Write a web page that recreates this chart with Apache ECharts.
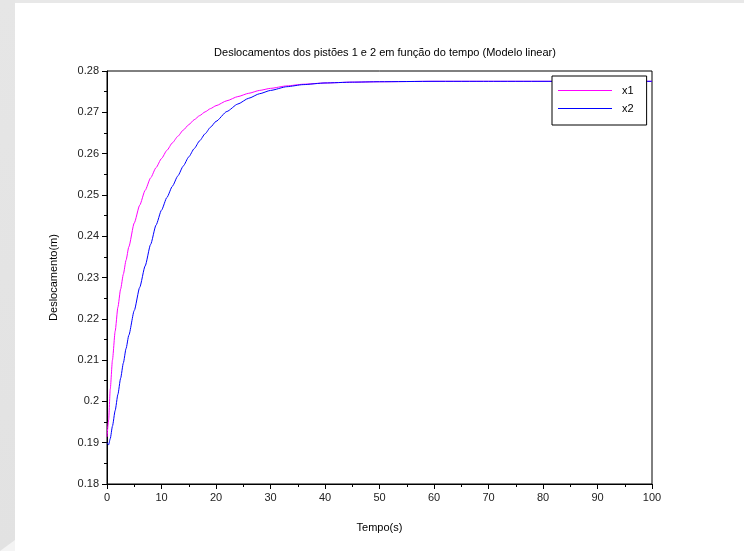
<!DOCTYPE html>
<html>
<head>
<meta charset="utf-8">
<script src="https://cdn.jsdelivr.net/npm/echarts@6/dist/echarts.min.js"></script>
<style>
  html, body { margin: 0; padding: 0; background: #ffffff; }
  #chart { width: 744px; height: 551px; }
</style>
</head>
<body>
<div id="chart"></div>
<script>
// Time samples (s)
const tempo = [0, 0.3, 0.6, 1, 1.5, 2, 2.5, 3, 3.5, 4, 5, 6, 7, 8, 9, 10, 11, 12, 13, 14, 15, 16, 17, 18, 19, 20, 22, 24, 26, 28, 30, 33, 36, 40, 45, 50, 60, 70, 80, 90, 100];
// Displacement of piston 1 (m)
const x1 = [0.1914, 0.1955, 0.2030, 0.2100, 0.2170, 0.2228, 0.2272, 0.2308, 0.2342, 0.2374, 0.2432, 0.2475, 0.2511, 0.2541, 0.2566, 0.2588, 0.2608, 0.2626, 0.2642, 0.2657, 0.2670, 0.2682, 0.2692, 0.2701, 0.2709, 0.2716, 0.2728, 0.2738, 0.2746, 0.2753, 0.2758, 0.2764, 0.2768, 0.2771, 0.2773, 0.2774, 0.2775, 0.2775, 0.2775, 0.2775, 0.2775];
// Displacement of piston 2 (m)
const x2 = [0.1900, 0.1895, 0.1910, 0.1940, 0.1978, 0.2017, 0.2056, 0.2093, 0.2128, 0.2160, 0.2220, 0.2276, 0.2328, 0.2380, 0.2427, 0.2463, 0.2494, 0.2521, 0.2546, 0.2570, 0.2592, 0.2612, 0.2631, 0.2648, 0.2664, 0.2678, 0.2702, 0.2720, 0.2734, 0.2745, 0.2753, 0.2762, 0.2767, 0.2771, 0.2773, 0.2774, 0.2775, 0.2775, 0.2775, 0.2775, 0.2775];

const seriesNames = ['x1', 'x2'];
const xTicks = { min: 0, max: 100, interval: 10 };
const yTicks = { min: 0.18, max: 0.28, interval: 0.01 };

const font = 'Liberation Sans, Arial, sans-serif';
const pair = (xs, ys) => xs.map((t, i) => [t, ys[i]]);

const chart = echarts.init(document.getElementById('chart'), null, { renderer: 'canvas' });
chart.setOption({
  animation: false,
  backgroundColor: '#ffffff',
  graphic: [
    { type: 'rect', left: 0, top: 0, shape: { width: 744, height: 3 }, style: { fill: '#e8e8e8' }, silent: true },
    { type: 'rect', left: 0, top: 0, shape: { width: 15, height: 551 },
      style: { fill: new echarts.graphic.LinearGradient(0, 0, 0, 1, [
        { offset: 0, color: '#e6e6e6' }, { offset: 1, color: '#e2e2e2' }]) }, silent: true },
    { type: 'polygon', shape: { points: [[0, 551], [15, 540], [15, 551]] }, style: { fill: '#f4f4f4' }, silent: true }
  ],
  title: {
    text: 'Deslocamentos dos pistões 1 e 2 em função do tempo (Modelo linear)',
    left: 380, top: 42, textAlign: 'center',
    textStyle: { fontFamily: font, fontSize: 11, fontWeight: 'normal', color: '#000' }
  },
  legend: {
    data: seriesNames,
    orient: 'vertical',
    left: 552, top: 76,
    backgroundColor: '#ffffff',
    borderColor: '#000', borderWidth: 1,
    padding: [9, 13, 11, 6],
    icon: 'rect',
    itemWidth: 54, itemHeight: 1, itemGap: 7,
    textStyle: { fontFamily: font, fontSize: 11, color: '#000', padding: [0, 0, 0, 5] }
  },
  grid: {
    left: 107, right: 92, top: 71, bottom: 67,
    show: true, borderColor: '#000', borderWidth: 1, backgroundColor: 'transparent'
  },
  xAxis: {
    type: 'value', min: xTicks.min, max: xTicks.max, interval: xTicks.interval,
    name: 'Tempo(s)', nameLocation: 'middle', nameGap: 38,
    nameTextStyle: { fontFamily: font, fontSize: 11, color: '#000' },
    axisLine: { show: true, lineStyle: { color: '#000', width: 1 } },
    axisTick: { show: true, inside: false, length: 5, lineStyle: { color: '#000' } },
    minorTick: { show: true, splitNumber: 2, length: 3, lineStyle: { color: '#000' } },
    splitLine: { show: false },
    axisLabel: { fontFamily: font, fontSize: 11, color: '#222', margin: 8 }
  },
  yAxis: {
    type: 'value', min: yTicks.min, max: yTicks.max, interval: yTicks.interval,
    name: 'Deslocamento(m)', nameLocation: 'middle', nameGap: 48, nameRotate: 90,
    nameTextStyle: { fontFamily: font, fontSize: 11, color: '#000' },
    axisLine: { show: true, lineStyle: { color: '#000', width: 1 } },
    axisTick: { show: true, inside: false, length: 5, lineStyle: { color: '#000' } },
    minorTick: { show: true, splitNumber: 2, length: 3, lineStyle: { color: '#000' } },
    splitLine: { show: false },
    axisLabel: {
      fontFamily: font, fontSize: 11, color: '#222', margin: 8,
      formatter: v => String(parseFloat(v.toFixed(2)))
    }
  },
  series: [
    { name: seriesNames[0], type: 'line', data: pair(tempo, x1), symbol: 'none', showSymbol: false,
      smooth: 0.2, smoothMonotone: 'x',
      lineStyle: { color: '#ff00ff', width: 1 }, itemStyle: { color: '#ff00ff' } },
    { name: seriesNames[1], type: 'line', data: pair(tempo, x2), symbol: 'none', showSymbol: false,
      smooth: 0.2, smoothMonotone: 'x',
      lineStyle: { color: '#0000ff', width: 1 }, itemStyle: { color: '#0000ff' } }
  ]
});
</script>
</body>
</html>
